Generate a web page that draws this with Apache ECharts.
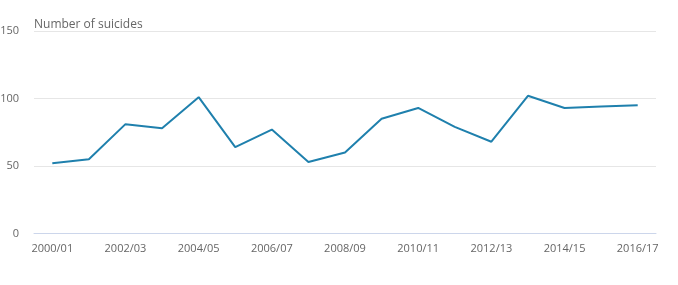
<!DOCTYPE html>
<html><head><meta charset="utf-8">
<script src="https://cdn.jsdelivr.net/npm/echarts@6/dist/echarts.min.js"></script>
<style>html,body{margin:0;padding:0;background:#fff}#c{width:678px;height:285px}</style>
</head><body><div id="c"></div>
<script>
const categories = ["2000/01","2001/02","2002/03","2003/04","2004/05","2005/06","2006/07","2007/08","2008/09","2009/10","2010/11","2011/12","2012/13","2013/14","2014/15","2015/16","2016/17"];
const suicides = [52,55,81,78,101,64,77,53,60,85,93,79,68,102,93,94,95];
const yTicks = {min:0, max:150, interval:50};
const chart = echarts.init(document.getElementById('c'), null, {renderer:'canvas'});
chart.setOption({
  animation:false,
  textStyle:{fontFamily:'Open Sans'},
  title:{text:'Number of suicides', left:29, top:14, textStyle:{fontFamily:'Open Sans', fontSize:12, fontWeight:'normal', color:'#666'}},
  grid:{left:34, right:22, top:31, bottom:51.5, containLabel:false, outerBoundsMode:'none'},
  xAxis:{type:'category', data:categories, boundaryGap:true,
    axisLine:{lineStyle:{color:'#ccd6eb'}},
    axisTick:{alignWithLabel:true, interval:1, length:9, lineStyle:{color:'#ccd6eb'}},
    axisLabel:{interval:1, color:'#666', fontSize:11, margin:10, fontFamily:'Open Sans'}},
  yAxis:{type:'value', min:yTicks.min, max:yTicks.max, interval:yTicks.interval,
    axisLine:{show:false}, axisTick:{show:false},
    splitLine:{lineStyle:{color:'#e6e6e6'}},
    axisLabel:{color:'#666', fontSize:11, margin:15, fontFamily:'Open Sans'}},
  series:[{type:'line', data:suicides, symbol:'none', lineStyle:{color:'#1f80ad', width:2}, itemStyle:{color:'#1f80ad'}}]
});
</script></body></html>
